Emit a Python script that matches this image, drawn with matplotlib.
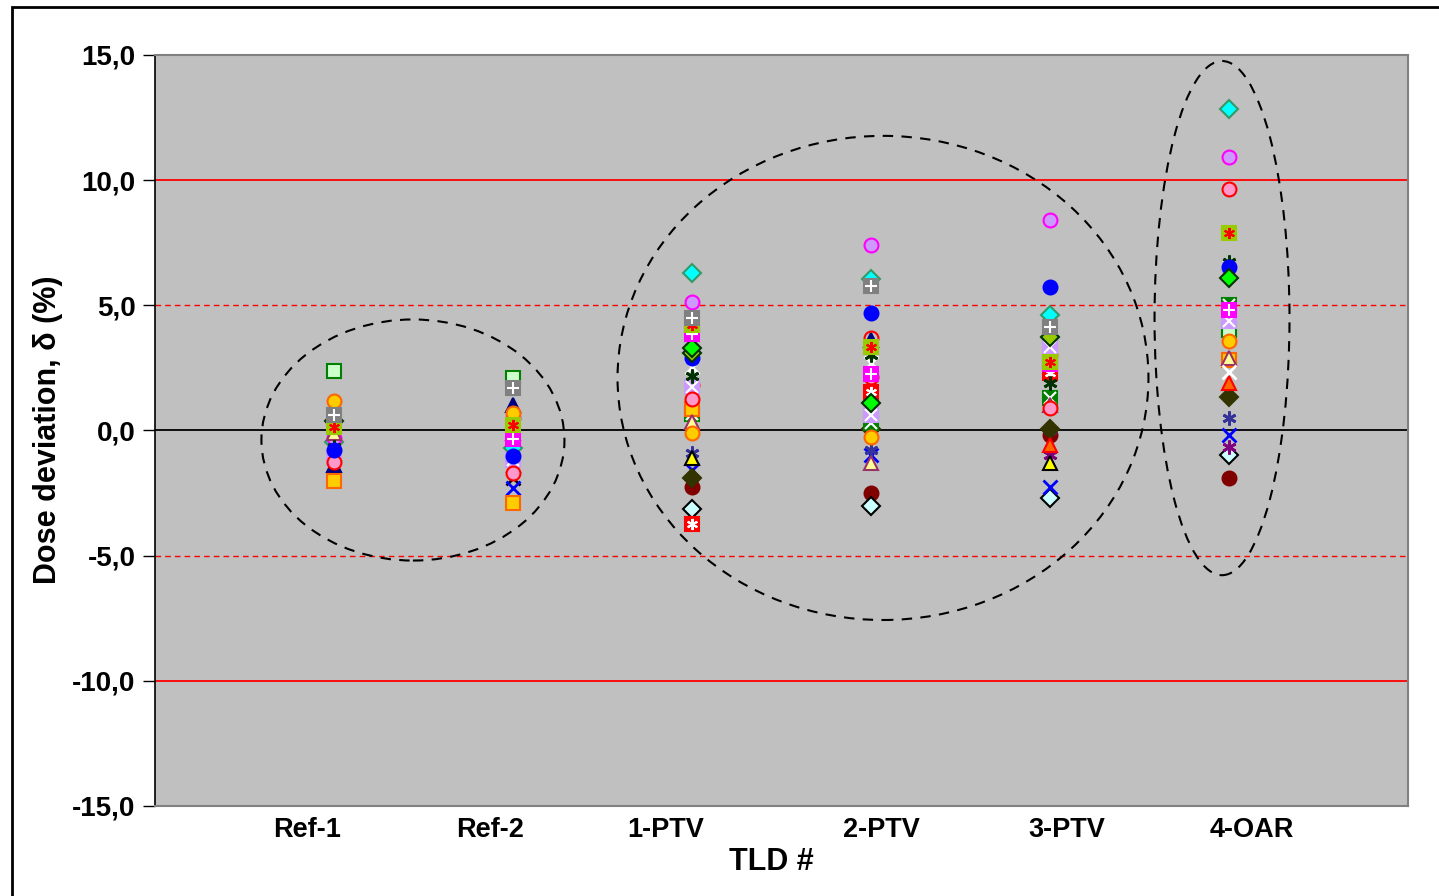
import numpy as np
import matplotlib
matplotlib.use("Agg")
import matplotlib.pyplot as plt
from matplotlib.patches import Ellipse, Rectangle

plt.rcParams['font.family'] = ['Liberation Sans', 'DejaVu Sans']

categories = ["Ref-1", "Ref-2", "1-PTV", "2-PTV", "3-PTV", "4-OAR"]
yticks = [-15, -10, -5, 0, 5, 10, 15]
nan = np.nan

# dose deviation (%) per series, for each TLD position
cyan_diamond      = [-0.45, -0.71, 6.30, 6.04, 4.61, 12.83]
lavender_circle   = [-0.30, 0.49, 5.15, 7.41, 8.41, 10.91]
pink_circle       = [-1.25, -1.69, 1.25, 2.15, 0.89, 9.64]
olive_sq_star     = [0.15, 0.22, 4.21, 3.32, 2.75, 7.90]
dkgreen_star      = [-0.65, nan, 2.18, 3.02, 1.91, 6.74]
blue_circle       = [-0.78, -1.00, 2.88, 4.71, 5.72, 6.54]
green_diamond     = [0.38, nan, 3.28, 1.09, nan, 6.08]
magenta_sq_plus   = [nan, -0.35, 3.85, 2.26, 2.66, 4.81]
lavender_sq_x     = [-1.11, -1.18, 1.75, 0.62, 3.35, 4.39]
ltgreen_square    = [2.39, 2.08, nan, nan, nan, 4.00]
orange_circle     = [1.19, 0.69, -0.11, -0.27, 3.02, 3.59]
orange_square     = [-2.00, -2.91, 0.85, 1.29, 2.90, 2.82]
yellow_tri        = [-0.11, -0.09, 0.35, -1.31, 1.02, 2.88]
white_x           = [nan, nan, 2.55, 2.68, nan, 2.35]
red_tri           = [nan, nan, nan, nan, -0.58, 1.89]
olive_diamond     = [nan, nan, -1.91, 0.05, 0.05, 1.33]
navy_star         = [nan, nan, -0.91, -0.78, 0.02, 0.49]
blue_x            = [nan, -2.31, -1.58, -0.98, -2.25, -0.18]
ltcyan_diamond    = [nan, nan, -3.15, -3.02, -2.68, -0.98]
maroon_circle     = [nan, nan, -2.25, -2.51, -0.18, -1.91]
gray_sq_plus      = [0.62, 1.69, 4.48, 5.77, 4.15, nan]
red_sq_star       = [nan, nan, -3.74, 1.55, 2.31, nan]
yellow_tri_black  = [nan, nan, -1.11, nan, -1.31, nan]
navy_tri          = [-1.38, 1.02, nan, 3.62, nan, nan]
ygreen_diamond    = [nan, nan, 3.08, nan, 3.75, nan]
green_sq_x        = [nan, nan, 0.66, 0.29, 1.29, 5.00]
purple_star       = [nan, nan, nan, nan, -0.98, -0.65]
red_circle        = [nan, nan, 1.82, 3.68, nan, nan]
black_x           = [nan, -1.91, nan, nan, nan, nan]

AST = (6, 2, 0)
# (values, marker, face, edge, overlay marker, overlay colour)
series = [
    (cyan_diamond, 'D', '#00FFFF', '#339966', None, None),
    (lavender_circle, 'o', '#CC99FF', '#FF00FF', None, None),
    (navy_tri, '^', '#000080', '#000080', None, None),
    (black_x, 'x', 'k', 'k', None, None),
    (maroon_circle, 'o', '#800000', '#800000', None, None),
    (ltcyan_diamond, 'D', '#CCFFFF', '#000000', None, None),
    (blue_x, 'x', '#0000FF', '#0000FF', None, None),
    (navy_star, AST, '#333399', '#333399', None, None),
    (purple_star, AST, '#800080', '#800080', None, None),
    (yellow_tri_black, '^', '#FFFF00', '#000000', None, None),
    (olive_diamond, 'D', '#333300', '#333300', None, None),
    (red_tri, '^', '#FF6600', '#FF0000', None, None),
    (green_sq_x, 's', '#008000', '#008000', 'x', 'white'),
    (ltgreen_square, 's', '#CCFFCC', '#008000', None, None),
    (orange_square, 's', '#FFCC00', '#FF6600', None, None),
    (yellow_tri, '^', '#FFFF99', '#993366', None, None),
    (orange_circle, 'o', '#FFCC00', '#FF6600', None, None),
    (red_circle, 'o', 'none', '#FF0000', None, None),
    (white_x, 'x', 'white', 'white', None, None),
    (lavender_sq_x, 's', '#CC99FF', '#CC99FF', 'x', 'white'),
    (pink_circle, 'o', '#FF99CC', '#FF0000', None, None),
    (red_sq_star, 's', '#FF0000', '#FF0000', AST, 'white'),
    (dkgreen_star, AST, '#003300', '#003300', None, None),
    (blue_circle, 'o', '#0000FF', '#0000FF', None, None),
    (ygreen_diamond, 'D', '#99CC00', '#003300', None, None),
    (green_diamond, 'D', '#00FF00', '#003300', None, None),
    (magenta_sq_plus, 's', '#FF00FF', '#FF00FF', '+', 'white'),
    (olive_sq_star, 's', '#99CC00', '#99CC00', AST, '#FF0000'),
    (gray_sq_plus, 's', '#808080', '#808080', '+', 'white'),
]

fig = plt.figure(figsize=(14.39, 8.96), dpi=100)
ax = fig.add_axes([155/1439, 1-806/896, 1253/1439, 751/896])
ax.set_facecolor('#C0C0C0')
ax.set_xlim(0, 7)
ax.set_ylim(-15, 15)

# reference lines
for yv in (10, -10):
    ax.axhline(yv, color='#FF0000', lw=1.3, zorder=1)
for yv in (5, -5):
    ax.axhline(yv, color='#FF0000', lw=1.0, ls=(0, (4, 3)), zorder=1)
ax.axhline(0, color='black', lw=1.3, zorder=1)

xpos = np.arange(1, len(categories) + 1)
for vals, mk, fc, ec, ov, oc in series:
    v = np.array(vals, dtype=float)
    if mk in ('x', AST):
        ax.plot(xpos, v, ls='none', marker=mk, ms=10, mec=ec, mew=2.0, zorder=3)
    else:
        ms = 9 if mk == 'D' else 10
        ax.plot(xpos, v, ls='none', marker=mk, ms=ms, mfc=fc, mec=ec, mew=1.5, zorder=3)
    if ov is not None:
        ax.plot(xpos, v, ls='none', marker=ov, ms=8, mec=oc, mew=1.5, zorder=3)

# ellipses
for cx, cy, w, h in [(1.441, -0.38, 1.693, 9.63),
                     (4.067, 2.10, 2.966, 19.34),
                     (5.961, 4.49, 0.754, 20.54)]:
    ax.add_patch(Ellipse((cx, cy), w, h, fill=False, ec='black', lw=1.5,
                         ls=(0, (5, 4)), zorder=4, clip_on=False))

ax.set_yticks(yticks)
ax.set_yticklabels([f"{t:.1f}".replace('.', ',') for t in yticks],
                   fontsize=20, fontweight='bold')
ax.tick_params(axis='y', direction='out', length=9, width=1, pad=5)
ax.set_xticks([])

# category labels (placed as in the original)
label_x = [0.849, 1.87, 2.855, 4.06, 5.095, 6.13]
for lx, c in zip(label_x, categories):
    ax.text(lx, -15.95, c, ha='center', va='center', fontsize=19.5,
            fontweight='bold', transform=ax.transData)

fig.text(771/1439, 1 - 862/896, 'TLD #', ha='center', va='center',
         fontsize=22, fontweight='bold')
fig.text(48/1439, 1 - 430/896, 'Dose deviation, δ (%)', ha='center',
         va='center', rotation=90, fontsize=22, fontweight='bold')

for side in ('top', 'right', 'bottom'):
    ax.spines[side].set_color('#808080')
    ax.spines[side].set_linewidth(1.5)
ax.spines['left'].set_color('black')
ax.spines['left'].set_linewidth(1.2)

# outer chart border
fig.patches.append(Rectangle((12/1439, -0.1), 1.2, 1 - 7/896 + 0.1,
                             transform=fig.transFigure, fill=False,
                             ec='black', lw=2))

fig.savefig('out.png', dpi=100)
